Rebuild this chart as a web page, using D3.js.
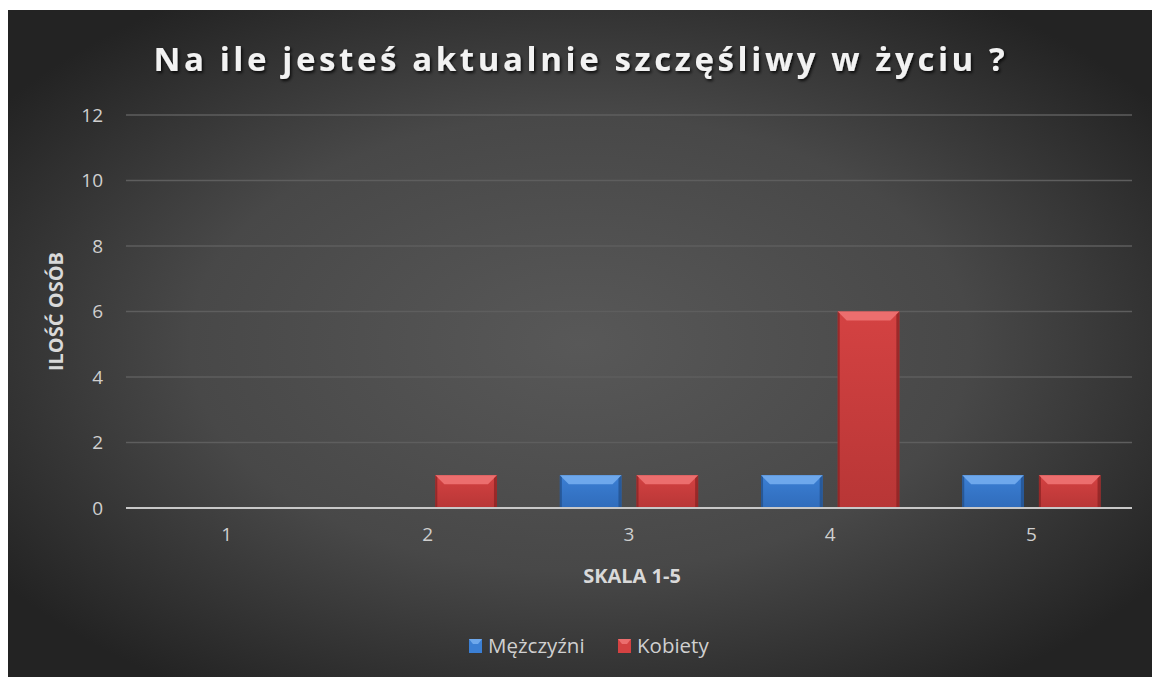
<!DOCTYPE html>
<html>
<head>
<meta charset="utf-8">
<script src="https://cdn.jsdelivr.net/npm/d3@7"></script>
<style>
  body { margin: 0; background: #fff; }
  svg { display: block; }
</style>
</head>
<body>
<div id="chart"></div>
<script>
// values
const categories = ["1", "2", "3", "4", "5"];
const seriesNames = ["Mężczyźni", "Kobiety"];
const men = [0, 0, 1, 1, 1];
const women = [0, 1, 1, 6, 1];
const yTicks = [0, 2, 4, 6, 8, 10, 12];

const title = "Na ile jesteś aktualnie szczęśliwy w życiu ?";
const xTitle = "SKALA 1-5";
const yTitle = "ILOŚĆ OSÓB";

const W = 1154, H = 677;
const margin = {top: 115, right: 22, bottom: 169, left: 126};
const plotW = W - margin.left - margin.right;
const plotH = H - margin.top - margin.bottom;

const colors = {
  "Mężczyźni": {base: "#3b7fd4", low: "#306cbb", light: "#6ea8ec", dark: "#234f88"},
  "Kobiety": {base: "#d44242", low: "#b83636", light: "#ec6e6e", dark: "#882323"}
};

const svg = d3.select("#chart").append("svg")
  .attr("width", W).attr("height", H);

const defs = svg.append("defs");
const bg = defs.append("radialGradient").attr("id", "bg")
  .attr("cx", "50%").attr("cy", "50%").attr("r", "62%");
bg.append("stop").attr("offset", "0%").attr("stop-color", "#585858");
bg.append("stop").attr("offset", "55%").attr("stop-color", "#484848");
bg.append("stop").attr("offset", "100%").attr("stop-color", "#232323");

const shadow = defs.append("filter").attr("id", "tshadow")
  .attr("x", "-5%").attr("y", "-20%").attr("width", "110%").attr("height", "150%");
shadow.append("feDropShadow").attr("dx", 1.5).attr("dy", 2).attr("stdDeviation", 1.5)
  .attr("flood-color", "#000").attr("flood-opacity", 0.8);

seriesNames.forEach(function(s, i) {
  const c = colors[s];
  const gv = defs.append("linearGradient").attr("id", "bar" + i)
    .attr("x1", 0).attr("x2", 0).attr("y1", 0).attr("y2", 1);
  gv.append("stop").attr("offset", "0%").attr("stop-color", c.base);
  gv.append("stop").attr("offset", "100%").attr("stop-color", c.low);
});

// white frame like the screenshot, then the dark chart area
svg.append("rect").attr("x", 8).attr("y", 10).attr("width", W - 10).attr("height", H - 10)
  .attr("fill", "url(#bg)");

svg.append("text")
  .attr("x", 581).attr("y", 71)
  .attr("text-anchor", "middle")
  .attr("font-family", "Open Sans")
  .attr("font-weight", "bold")
  .attr("font-size", 33)
  .attr("letter-spacing", 3.6)
  .attr("fill", "#f2f2f2")
  .attr("filter", "url(#tshadow)")
  .text(title);

const g = svg.append("g")
  .attr("transform", "translate(" + margin.left + "," + margin.top + ")");

const x0 = d3.scaleBand().domain(categories).range([0, plotW]);
const x1 = d3.scaleBand().domain(seriesNames).range([0, x0.bandwidth()])
  .paddingInner(0.196).paddingOuter(0.41);
const y = d3.scaleLinear().domain([0, 12]).range([plotH, 0]);

// gridlines
g.append("g").selectAll("line").data(yTicks.filter(d => d > 0)).join("line")
  .attr("x1", 0).attr("x2", plotW)
  .attr("y1", d => y(d)).attr("y2", d => y(d))
  .attr("stroke", "#5e5e5e").attr("stroke-width", 1.5);

// y axis labels
const yAxis = d3.axisLeft(y).tickValues(yTicks).tickSize(0).tickPadding(23);
g.append("g").call(yAxis)
  .call(a => a.select(".domain").remove())
  .selectAll("text")
  .attr("font-family", "Open Sans").attr("font-size", 19).attr("fill", "#cfcfcf");

// x axis labels
const xAxis = d3.axisBottom(x0).tickSize(0).tickPadding(20);
g.append("g").attr("transform", "translate(0," + plotH + ")").call(xAxis)
  .call(a => a.select(".domain").remove())
  .selectAll("text")
  .attr("font-family", "Open Sans").attr("font-size", 19).attr("fill", "#cfcfcf");

// bars
const rows = categories.map((c, i) => ({cat: c, vals: [men[i], women[i]]}));
const bevel = 9;
const groups = g.append("g").selectAll("g").data(rows).join("g")
  .attr("transform", d => "translate(" + x0(d.cat) + ",0)");
const bars = groups.selectAll("g").data(d => d.vals.map((v, i) => ({s: seriesNames[i], i: i, v: v})).filter(d => d.v > 0))
  .join("g");
bars.append("rect")
  .attr("x", d => x1(d.s)).attr("y", d => y(d.v))
  .attr("width", x1.bandwidth()).attr("height", d => y(0) - y(d.v))
  .attr("fill", d => "url(#bar" + d.i + ")");
bars.append("path")
  .attr("d", function(d) {
    const xa = x1(d.s), xb = xa + x1.bandwidth(), yt = y(d.v);
    return "M" + xa + "," + yt + "L" + xb + "," + yt + "L" + (xb - bevel) + "," + (yt + bevel) +
      "L" + (xa + bevel) + "," + (yt + bevel) + "Z";
  })
  .attr("fill", d => colors[d.s].light);
// darker side edges
bars.append("path")
  .attr("d", function(d) {
    const xa = x1(d.s), xb = xa + x1.bandwidth(), yt = y(d.v), yb = y(0);
    return "M" + xb + "," + yt + "L" + xb + "," + yb + "L" + (xb - 3) + "," + yb +
      "L" + (xb - 3) + "," + (yt + 3) + "Z" +
      "M" + xa + "," + yt + "L" + xa + "," + yb + "L" + (xa + 2) + "," + yb +
      "L" + (xa + 2) + "," + (yt + 2) + "Z";
  })
  .attr("fill", d => colors[d.s].dark).attr("opacity", 0.75);

// zero line
g.append("line").attr("x1", 0).attr("x2", plotW).attr("y1", y(0)).attr("y2", y(0))
  .attr("stroke", "#c8c8c8").attr("stroke-width", 2);

// axis titles
svg.append("text")
  .attr("x", margin.left + plotW / 2 + 3).attr("y", 583)
  .attr("text-anchor", "middle")
  .attr("font-family", "Open Sans").attr("font-weight", "bold").attr("font-size", 20)
  .attr("fill", "#d9d9d9")
  .text(xTitle);

svg.append("text")
  .attr("transform", "translate(63," + (margin.top + plotH / 2) + ") rotate(-90)")
  .attr("text-anchor", "middle")
  .attr("font-family", "Open Sans").attr("font-weight", "bold").attr("font-size", 20)
  .attr("fill", "#d9d9d9")
  .text(yTitle);

// legend
const legend = svg.append("g").attr("transform", "translate(469,653)");
const legendX = [0, 149];
seriesNames.forEach(function(s, i) {
  const item = legend.append("g").attr("transform", "translate(" + legendX[i] + ",0)");
  item.append("rect").attr("x", 0).attr("y", -14).attr("width", 13).attr("height", 14)
    .attr("fill", colors[s].base);
  item.append("path").attr("d", "M0,-14L13,-14L9,-9L4,-9Z").attr("fill", colors[s].light);
  item.append("text").attr("x", 19).attr("y", 0)
    .attr("font-family", "Open Sans").attr("font-size", 20.5).attr("fill", "#d0d0d0")
    .text(s);
});
</script>
</body>
</html>
